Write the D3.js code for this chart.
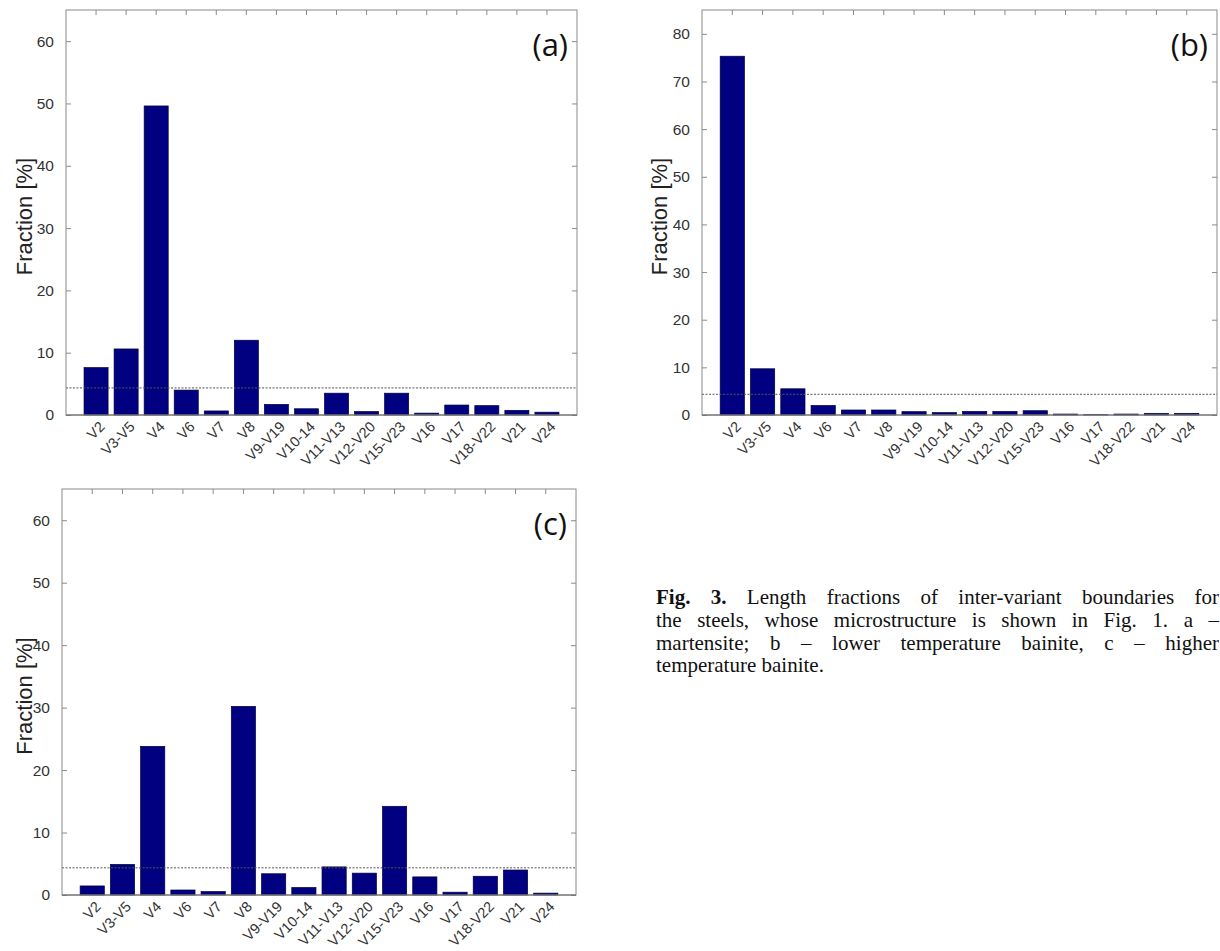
<!DOCTYPE html>
<html>
<head>
<meta charset="utf-8">
<script src="https://cdn.jsdelivr.net/npm/d3@7"></script>
<style>
  html, body { margin: 0; padding: 0; background: #fff; }
  #wrap { position: relative; width: 1220px; height: 951px; overflow: hidden; }
  svg { position: absolute; left: 0; top: 0; }
  #caption {
    position: absolute; left: 656px; top: 586px; width: 563px;
    font-family: "Liberation Serif", "DejaVu Serif", serif; font-size: 21px; line-height: 22.8px; color: #111;
  }
  #caption div { text-align: justify; text-align-last: justify; white-space: nowrap; }
  #caption div.last { text-align-last: left; }
</style>
</head>
<body>
<div id="wrap">
<svg id="chart" width="1220" height="951"></svg>
<div id="caption">
  <div><b>Fig. 3.</b> Length fractions of inter-variant boundaries for</div>
  <div>the steels, whose microstructure is shown in Fig. 1. a –</div>
  <div>martensite; b – lower temperature bainite, c – higher</div>
  <div class="last">temperature bainite.</div>
</div>
</div>
<script>
// ---- data ----
const categories = ["V2","V3-V5","V4","V6","V7","V8","V9-V19","V10-14","V11-V13","V12-V20","V15-V23","V16","V17","V18-V22","V21","V24"];
const valuesA = [7.6, 10.6, 49.6, 4.0, 0.65, 12.0, 1.7, 1.0, 3.5, 0.55, 3.5, 0.3, 1.6, 1.5, 0.75, 0.45];
const valuesB = [75.3, 9.7, 5.5, 2.0, 1.05, 1.05, 0.7, 0.5, 0.75, 0.75, 0.9, 0.2, 0.07, 0.2, 0.35, 0.35];
const valuesC = [1.45, 4.9, 23.8, 0.8, 0.55, 30.2, 3.4, 1.2, 4.5, 3.5, 14.2, 2.9, 0.45, 3.0, 4.0, 0.3];
const yTicksA = [0, 10, 20, 30, 40, 50, 60];
const yTicksB = [0, 10, 20, 30, 40, 50, 60, 70, 80];
const yTicksC = [0, 10, 20, 30, 40, 50, 60];
const yMaxA = 65, yMaxB = 85, yMaxC = 65;
const randomLevel = 100 / 23;   // dashed reference line (random distribution)
const panelLabels = ["(a)", "(b)", "(c)"];
const yAxisTitle = "Fraction [%]";

// ---- layout ----
const panels = [
  { values: valuesA, ticks: yTicksA, ymax: yMaxA, label: panelLabels[0], x0: 66,  x1: 577,  y0: 10,  y1: 415, titleX: 24 },
  { values: valuesB, ticks: yTicksB, ymax: yMaxB, label: panelLabels[1], x0: 702, x1: 1217, y0: 10,  y1: 415, titleX: 659 },
  { values: valuesC, ticks: yTicksC, ymax: yMaxC, label: panelLabels[2], x0: 62,  x1: 576,  y0: 489, y1: 895, titleX: 24 }
];

const svg = d3.select("#chart");
svg.append("rect").attr("width", 1220).attr("height", 951).attr("fill", "#fff");

const axisColor = "#8a8a8a";
const textColor = "#333";

panels.forEach(p => {
  const g = svg.append("g");
  const x = d3.scaleBand().domain(categories).range([p.x0, p.x1]).paddingInner(0.2).paddingOuter(0.6);
  const y = d3.scaleLinear().domain([0, p.ymax]).range([p.y1, p.y0]);
  const tickX = c => x(c) + x.bandwidth() / 2;

  // bars
  g.selectAll("rect.bar").data(categories).join("rect")
    .attr("class", "bar")
    .attr("x", c => x(c))
    .attr("width", x.bandwidth())
    .attr("y", (c, i) => y(p.values[i]))
    .attr("height", (c, i) => y(0) - y(p.values[i]))
    .attr("fill", "#000080")
    .attr("stroke", "#00003a")
    .attr("stroke-width", 0.7);

  // dashed random-level line
  g.append("line")
    .attr("x1", p.x0).attr("x2", p.x1)
    .attr("y1", y(randomLevel)).attr("y2", y(randomLevel))
    .attr("stroke", "#555").attr("stroke-width", 1).attr("stroke-dasharray", "2,1.5");

  // left axis (ticks inward)
  const left = g.append("g").attr("transform", `translate(${p.x0},0)`)
    .call(d3.axisLeft(y).tickValues(p.ticks).tickSize(-5).tickPadding(12).tickFormat(d3.format("d")));
  // right axis (ticks inward, no labels)
  const right = g.append("g").attr("transform", `translate(${p.x1},0)`)
    .call(d3.axisRight(y).tickValues(p.ticks).tickSize(-5).tickFormat(""));
  // top axis (ticks inward, no labels)
  const top = g.append("g").attr("transform", `translate(0,${p.y0})`)
    .call(d3.axisTop(x).tickSize(-5).tickFormat(""));
  // bottom axis
  const bottom = g.append("g").attr("transform", `translate(0,${p.y1})`)
    .call(d3.axisBottom(x).tickSize(0).tickPadding(0).tickFormat(""));

  [left, right, top, bottom].forEach(a => {
    a.select(".domain").remove();
    a.selectAll(".tick line").attr("stroke", axisColor).attr("stroke-width", 1);
  });
  left.selectAll(".tick text")
    .attr("fill", textColor)
    .style("font-family", "Liberation Sans, Arial, sans-serif")
    .style("font-size", "15.5px");

  // box
  g.append("rect")
    .attr("x", p.x0).attr("y", p.y0)
    .attr("width", p.x1 - p.x0).attr("height", p.y1 - p.y0)
    .attr("fill", "none").attr("stroke", axisColor).attr("stroke-width", 1);
  g.append("line").attr("x1", p.x0).attr("x2", p.x1).attr("y1", p.y1).attr("y2", p.y1)
    .attr("stroke", "#666").attr("stroke-width", 1);

  // rotated category labels
  g.selectAll("text.cat").data(categories).join("text")
    .attr("class", "cat")
    .attr("transform", c => `translate(${tickX(c) + 6},${p.y1 + 9}) rotate(-45)`)
    .attr("text-anchor", "end")
    .attr("dy", "0.35em")
    .attr("fill", textColor)
    .style("font-family", "Liberation Sans, Arial, sans-serif")
    .style("font-size", "14.5px")
    .text(c => c);

  // y-axis title
  g.append("text")
    .attr("transform", `translate(${p.titleX},${(p.y0 + p.y1) / 2 + 4}) rotate(-90)`)
    .attr("text-anchor", "middle")
    .attr("dy", "0.35em")
    .attr("fill", "#222")
    .style("font-family", "Liberation Sans, Arial, sans-serif")
    .style("font-size", "22px")
    .text(yAxisTitle);

  // panel label
  g.append("text")
    .attr("x", p.x1 - 9).attr("y", p.y0 + 46)
    .attr("text-anchor", "end")
    .attr("fill", "#111")
    .style("font-family", "Open Sans, Liberation Sans, sans-serif")
    .style("font-size", "31px")
    .text(p.label);
});
</script>
</body>
</html>
